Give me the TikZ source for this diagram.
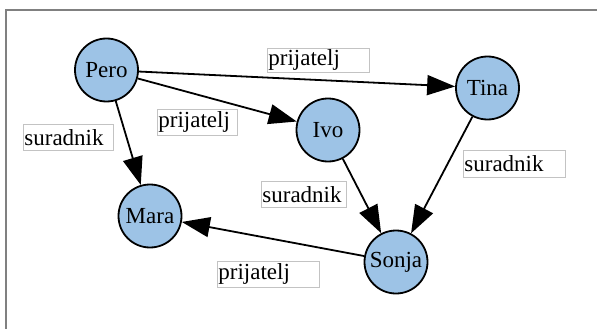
\documentclass[tikz,border=0pt]{standalone}
\usepackage{fontspec}
\setmainfont{Liberation Serif}
\usetikzlibrary{arrows.meta}
\definecolor{nodeblue}{RGB}{157,195,230}
\definecolor{framegray}{RGB}{128,128,128}
\definecolor{boxgray}{RGB}{195,195,195}
\begin{document}
\begin{tikzpicture}[x=1pt,y=-1pt,
  person/.style={circle,draw=black,fill=nodeblue,line width=1.8pt,minimum size=63pt,inner sep=0pt,font=\fontsize{23}{26}\selectfont},
  lbl/.style={draw=boxgray,line width=0.8pt,rectangle,inner sep=1pt,anchor=north west,align=left,font=\fontsize{23}{26}\selectfont},
  rel/.style={line width=1.8pt,-{Triangle[length=28pt,width=20pt]}}]
\useasboundingbox (0,0) rectangle (597,329);
\fill[white] (0,0) rectangle (597,329);
\draw[framegray,line width=1.6pt] (6,329) -- (6,10) -- (597,10);
% nodes
\node[person] (pero) at (106.5,70) {Pero};
\node[person] (tina) at (487.5,88) {Tina};
\node[person] (ivo) at (328,130) {Ivo};
\node[person] (mara) at (150,216) {Mara};
\node[person] (sonja) at (396,262) {Sonja};
% edges
\draw[rel] (pero) -- (tina);
\draw[rel] (pero) -- (ivo);
\draw[rel] (pero) -- (mara);
\draw[rel] (ivo) -- (sonja);
\draw[rel] (tina) -- (sonja);
\draw[rel] (sonja) -- (mara);
% labels
\node[lbl,minimum width=102pt,minimum height=24pt,text width=100pt] (l1) at (267,48) {prijatelj};
\node[lbl,minimum width=80pt,minimum height=26pt,text width=78pt] (l2) at (157,109) {prijatelj};
\node[lbl,minimum width=90pt,minimum height=26pt,text width=88pt] (l3) at (23,124) {suradnik};
\node[lbl,minimum width=102pt,minimum height=27pt,text width=100pt] (l4) at (463,150) {suradnik};
\node[lbl,minimum width=85pt,minimum height=26pt,text width=83pt] (l5) at (261,181) {suradnik};
\node[lbl,minimum width=102pt,minimum height=26pt,text width=100pt] (l6) at (217,261) {prijatelj};
\end{tikzpicture}
\end{document}
